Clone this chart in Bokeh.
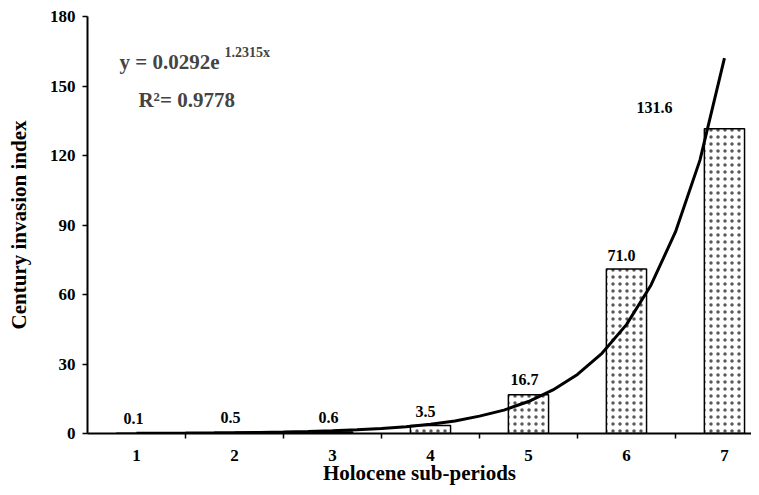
from bokeh.plotting import figure
from bokeh.models import ColumnDataSource, FixedTicker, Label, Range1d
from bokeh.core.properties import value
from bokeh.embed import file_html
from bokeh.resources import INLINE

# ---- data ----
periods = [1, 2, 3, 4, 5, 6, 7]
index_values = [0.1, 0.5, 0.6, 3.5, 16.7, 71.0, 131.6]
value_labels = ["0.1", "0.5", "0.6", "3.5", "16.7", "71.0", "131.6"]
trend_x = [1, 1.25, 1.5, 1.75, 2, 2.25, 2.5, 2.75, 3, 3.25, 3.5, 3.75, 4, 4.25, 4.5, 4.75,
           5, 5.25, 5.5, 5.75, 6, 6.25, 6.5, 6.75, 7]
trend_y = [0.10, 0.14, 0.18, 0.25, 0.34, 0.47, 0.63, 0.86, 1.17, 1.6, 2.2, 2.9, 4.0, 5.4,
           7.5, 10.1, 13.8, 18.8, 25.5, 34.6, 47.0, 64.0, 87.0, 118.0, 162.0]
y_ticks = [0, 30, 60, 90, 120, 150, 180]
x_boundaries = [1.5, 2.5, 3.5, 4.5, 5.5, 6.5]
equation = "y = 0.0292e"
equation_exp = "1.2315x"
r2_text = "R\u00b2= 0.9778"

FONT = "Liberation Serif"

p = figure(width=751, height=487, output_backend="svg", toolbar_location=None,
           x_range=Range1d(0.5, 7.276), y_range=Range1d(0, 180),
           min_border_left=87, min_border_right=0, min_border_top=16, min_border_bottom=53)
p.outline_line_color = None
p.xgrid.grid_line_color = None
p.ygrid.grid_line_color = None
p.background_fill_color = "white"

# bars
src = ColumnDataSource(dict(x=periods, top=index_values, label=value_labels,
                            xo=[-3, -4, -4, -5, -4, -5, -70],
                            yo=[-15, -15, -15, -14, -15, -14, -21]))
p.vbar(x="x", top="top", width=0.41, source=src, fill_color="white",
       line_color="black", line_width=1.5,
       hatch_pattern="dot", hatch_color="black", hatch_scale=7, hatch_weight=1,
       hatch_alpha=0.65)

# trend line
p.line(trend_x, trend_y, line_color="black", line_width=3)

# value labels
p.text(x="x", y="top", text="label", x_offset="xo", y_offset="yo", source=src,
       text_font=value(FONT), text_font_style="bold", text_font_size="16px",
       text_align="center", text_baseline="middle", text_color="black")

# equation
p.add_layout(Label(x=0.827, y=160.2, text=equation, text_font=FONT, text_font_style="bold",
                   text_font_size="21px", text_baseline="middle", text_align="left"))
p.add_layout(Label(x=1.898, y=164.3, text=equation_exp, text_font=FONT, text_font_style="bold",
                   text_font_size="14px", text_baseline="middle", text_align="left"))
p.add_layout(Label(x=1.02, y=143.8, text=r2_text, text_font=FONT, text_font_style="bold",
                   text_font_size="21px", text_baseline="middle", text_align="left"))

# axes
xa = p.xaxis[0]
xa.ticker = FixedTicker(ticks=periods, minor_ticks=x_boundaries)
xa.major_tick_out = 0
xa.major_tick_in = 0
xa.minor_tick_out = 5
xa.minor_tick_in = 0
xa.minor_tick_line_color = "black"
xa.minor_tick_line_width = 1.5
xa.axis_line_width = 2
xa.axis_line_color = "black"
xa.major_label_standoff = 11
xa.major_label_text_font = FONT
xa.major_label_text_font_style = "bold"
xa.major_label_text_font_size = "17px"
xa.major_label_text_color = "black"
xa.axis_label = "Holocene sub-periods"
xa.axis_label_text_font = FONT
xa.axis_label_text_font_style = "bold"
xa.axis_label_text_font_size = "21px"
xa.axis_label_text_color = "black"
xa.axis_label_standoff = -3

ya = p.yaxis[0]
ya.ticker = FixedTicker(ticks=y_ticks, minor_ticks=[])
ya.major_tick_out = 5
ya.major_tick_in = 0
ya.major_tick_line_width = 1.5
ya.major_tick_line_color = "black"
ya.axis_line_width = 2
ya.axis_line_color = "black"
ya.major_label_standoff = 7
ya.major_label_text_font = FONT
ya.major_label_text_font_style = "bold"
ya.major_label_text_font_size = "17px"
ya.major_label_text_color = "black"
ya.axis_label = "Century invasion index"
ya.axis_label_text_font = FONT
ya.axis_label_text_font_style = "bold"
ya.axis_label_text_font_size = "21px"
ya.axis_label_text_color = "black"
ya.axis_label_standoff = 16

open("out.html", "w").write(file_html(p, INLINE))
